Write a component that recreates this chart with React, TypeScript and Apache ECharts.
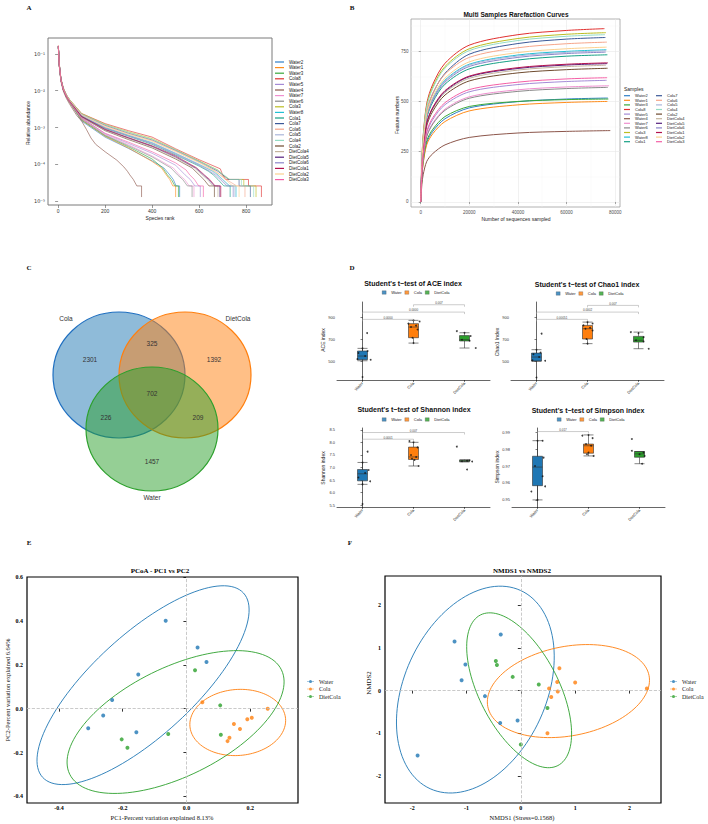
import { useEffect, useRef } from 'react';
import * as echarts from 'echarts';

const SANS = '"Liberation Sans", Arial, sans-serif';
const SERIF = '"Liberation Serif", "Times New Roman", serif';

// ---------- Panel A / B: samples ----------
const samples = ['Water2','Water1','Water3','Cola8','Water5','Water4','Water7','Water6','Cola3','Water8','Cola1','Cola7','Cola6','Cola5','Cola4','Cola2','DietCola4','DietCola5','DietCola6','DietCola1','DietCola2','DietCola3'];
const sampleColors = ['#2f7fc8','#ff8c1a','#39a83a','#e0302f','#a48ad6','#8c564b','#ef8fcf','#8a8a8a','#bcbd22','#21c1d4','#16a085','#3b5998','#f6a58a','#a9b6da','#93dcc4','#6e4a2e','#c4b49c','#55207e','#8b85c9','#b3124e','#fbd08f','#f45ea5'];

// Panel A: rank / relative abundance
const rankAbundance = [
  [[1,0.16],[5,0.048],[12,0.019],[22,0.0105],[35,0.0068],[50,0.0047],[100,0.0015],[200,0.00055],[300,0.00027],[400,0.000125],[450,0.00008],[475,0.000052],[490,0.000039],[502,0.000026],[517,0.000026],[517,0.000013]],
  [[1,0.15],[5,0.046],[12,0.019],[22,0.0105],[35,0.0068],[50,0.0047],[100,0.0016],[200,0.00058],[300,0.00028],[400,0.00012],[440,0.00008],[460,0.000052],[475,0.000039],[488,0.000026],[500,0.000026],[500,0.000013]],
  [[1,0.16],[5,0.05],[12,0.02],[22,0.011],[35,0.007],[50,0.0048],[100,0.0016],[200,0.0006],[300,0.0003],[400,0.00014],[445,0.00008],[465,0.000052],[482,0.000039],[497,0.000026],[512,0.000026],[512,0.000013]],
  [[1,0.17],[5,0.055],[12,0.021],[22,0.012],[35,0.0078],[50,0.0056],[100,0.0024],[200,0.00128],[300,0.00082],[400,0.00055],[500,0.000265],[600,0.000134],[690,0.000076],[700,0.000052],[712,0.000039],[810,0.000039],[810,0.000026],[865,0.000026],[865,0.000013]],
  [[1,0.16],[5,0.05],[12,0.02],[22,0.011],[35,0.007],[50,0.0049],[100,0.0018],[200,0.00068],[300,0.00037],[400,0.0002],[500,0.000095],[540,0.000052],[562,0.000039],[582,0.000026],[605,0.000026],[605,0.000013]],
  [[1,0.16],[5,0.047],[12,0.018],[22,0.0098],[35,0.0062],[50,0.0042],[80,0.0021],[100,0.0015],[120,0.0009],[140,0.00052],[160,0.00035],[200,0.00022],[250,0.00013],[280,0.000085],[295,0.000065],[305,0.000052],[320,0.000039],[335,0.000026],[355,0.000026],[355,0.000013]],
  [[1,0.16],[5,0.05],[12,0.02],[22,0.011],[35,0.007],[50,0.0049],[100,0.0017],[200,0.00065],[300,0.00034],[400,0.00017],[490,0.00008],[515,0.000052],[538,0.000039],[558,0.000026],[578,0.000026],[578,0.000013]],
  [[1,0.16],[5,0.05],[12,0.02],[22,0.011],[35,0.0069],[50,0.0048],[100,0.0017],[200,0.00062],[300,0.00032],[400,0.00016],[480,0.00008],[508,0.000052],[530,0.000039],[550,0.000026],[570,0.000026],[570,0.000013]],
  [[1,0.16],[5,0.052],[12,0.021],[22,0.012],[35,0.0078],[50,0.0056],[100,0.0024],[200,0.00122],[300,0.00076],[400,0.0005],[500,0.00025],[600,0.000125],[680,0.00007],[700,0.000052],[730,0.000039],[790,0.000039],[790,0.000026],[842,0.000026],[842,0.000013]],
  [[1,0.16],[5,0.05],[12,0.02],[22,0.0112],[35,0.0074],[50,0.0053],[100,0.0021],[200,0.001],[300,0.00062],[400,0.00039],[500,0.0002],[600,0.0001],[660,0.000065],[680,0.000052],[700,0.000039],[730,0.000026],[757,0.000026],[757,0.000013]],
  [[1,0.16],[5,0.05],[12,0.02],[22,0.0112],[35,0.0074],[50,0.0052],[100,0.002],[200,0.00095],[300,0.00058],[400,0.00035],[500,0.00018],[600,0.00009],[640,0.000065],[660,0.000052],[680,0.000039],[705,0.000026],[732,0.000026],[732,0.000013]],
  [[1,0.16],[5,0.05],[12,0.02],[22,0.0115],[35,0.0076],[50,0.0054],[100,0.0023],[200,0.00115],[300,0.0007],[400,0.00046],[500,0.00024],[600,0.00012],[680,0.000065],[700,0.000052],[725,0.000039],[770,0.000039],[770,0.000026],[818,0.000026],[818,0.000013]],
  [[1,0.16],[5,0.05],[12,0.02],[22,0.0115],[35,0.0076],[50,0.0054],[100,0.0023],[200,0.0011],[300,0.00068],[400,0.00044],[500,0.00023],[600,0.000115],[670,0.000065],[690,0.000052],[715,0.000039],[760,0.000026],[795,0.000026],[795,0.000013]],
  [[1,0.16],[5,0.05],[12,0.02],[22,0.0112],[35,0.0074],[50,0.0053],[100,0.0021],[200,0.001],[300,0.0006],[400,0.00038],[500,0.0002],[600,0.0001],[655,0.000065],[675,0.000052],[698,0.000039],[725,0.000026],[752,0.000026],[752,0.000013]],
  [[1,0.16],[5,0.052],[12,0.021],[22,0.012],[35,0.0077],[50,0.0055],[100,0.0023],[200,0.0012],[300,0.00074],[400,0.00048],[500,0.00025],[600,0.00012],[680,0.00007],[705,0.000052],[730,0.000039],[780,0.000039],[780,0.000026],[832,0.000026],[832,0.000013]],
  [[1,0.16],[5,0.05],[12,0.02],[22,0.011],[35,0.0071],[50,0.005],[100,0.0019],[200,0.00082],[300,0.00047],[400,0.00028],[500,0.00014],[570,0.00008],[600,0.000052],[620,0.000039],[642,0.000026],[665,0.000026],[665,0.000013]],
  [[1,0.16],[5,0.05],[12,0.02],[22,0.011],[35,0.0071],[50,0.005],[100,0.0019],[200,0.00085],[300,0.0005],[400,0.0003],[500,0.00015],[580,0.00008],[612,0.000052],[635,0.000039],[658,0.000026],[680,0.000026],[680,0.000013]],
  [[1,0.16],[5,0.05],[12,0.02],[22,0.011],[35,0.0072],[50,0.0051],[100,0.002],[200,0.00088],[300,0.00052],[400,0.00031],[500,0.00016],[585,0.00008],[618,0.000052],[640,0.000039],[665,0.000026],[688,0.000026],[688,0.000013]],
  [[1,0.16],[5,0.05],[12,0.02],[22,0.0112],[35,0.0073],[50,0.0052],[100,0.0021],[200,0.00098],[300,0.0006],[400,0.00037],[500,0.00019],[600,0.000095],[645,0.000065],[668,0.000052],[690,0.000039],[718,0.000026],[745,0.000026],[745,0.000013]],
  [[1,0.16],[5,0.05],[12,0.02],[22,0.011],[35,0.0072],[50,0.0051],[100,0.002],[200,0.0009],[300,0.00053],[400,0.00032],[500,0.00017],[590,0.00008],[622,0.000052],[645,0.000039],[668,0.000026],[692,0.000026],[692,0.000013]],
  [[1,0.16],[5,0.05],[12,0.02],[22,0.0113],[35,0.0075],[50,0.0054],[100,0.0022],[200,0.00105],[300,0.00065],[400,0.00042],[500,0.00022],[600,0.00011],[665,0.000065],[688,0.000052],[712,0.000039],[742,0.000026],[770,0.000026],[770,0.000013]],
  [[1,0.16],[5,0.05],[12,0.02],[22,0.011],[35,0.007],[50,0.0049],[100,0.0018],[200,0.0007],[300,0.0004],[400,0.00022],[500,0.00011],[545,0.00007],[560,0.000052],[580,0.000039],[598,0.000026],[618,0.000026],[618,0.000013]],
];
const rankTicks = [0, 200, 400, 600, 800];

// Panel B: rarefaction
const rareDepths = [0, 500, 1000, 2500, 5000, 10000, 20000, 40000, 60000];
const rareEndDepth = [77000,76800,77200,75600,76500,78000,77500,77000,76200,76400,76800,76000,76600,76300,75800,76900,76200,76700,76100,77000,76500,76700];
const rareValues = [
  [0,129,196,295,352,414,468,499,512,517],
  [0,125,190,285,340,400,453,483,495,500],
  [0,135,205,305,362,425,475,500,509,512],
  [0,216,328,491,586,690,780,832,853,862],
  [0,151,230,345,411,484,548,584,599,605],
  [0,89,135,202,241,284,321,343,351,355],
  [0,145,220,329,393,462,523,558,572,578],
  [0,143,217,325,388,456,516,550,564,570],
  [0,211,320,480,573,674,762,813,834,842],
  [0,189,288,431,515,606,685,731,749,757],
  [0,183,278,417,498,586,662,706,725,732],
  [0,195,300,450,540,640,735,788,810,818],
  [0,199,302,453,541,636,719,767,787,795],
  [0,188,286,429,511,602,681,726,744,752],
  [0,208,316,474,566,666,753,803,824,832],
  [0,166,253,379,452,532,602,642,658,665],
  [0,170,258,388,462,544,615,656,673,680],
  [0,172,261,392,468,550,623,664,681,688],
  [0,186,283,425,507,596,674,719,738,745],
  [0,173,263,394,471,554,626,668,685,692],
  [0,193,293,439,524,616,697,743,762,770],
  [0,155,235,352,420,494,559,596,612,618],
];
const rareXTicks = [0, 20000, 40000, 60000, 80000];
const rareYTicks = [0, 250, 500, 750];

// ---------- Groups ----------
const groups = ['Water', 'Cola', 'DietCola'];
const groupColors = ['#1f77b4', '#ff7f0e', '#2ca02c'];

// Panel C: Venn counts  (Cola only, Cola∩Diet, Diet only, all, Cola∩Water, Diet∩Water, Water only)
const vennSets = ['Cola', 'DietCola', 'Water'];
const vennCounts = [2301, 325, 1392, 702, 226, 209, 1457];

// Panel D: boxplot stats [min, Q1, median, Q3, max] for Water, Cola, DietCola
const aceBox = [[505,515,548,594,618],[666,715,812,843,873],[621,685,697,734,760]];
const chao1Box = [[500,503,539,575,606],[661,703,797,827,857],[615,675,691,727,766]];
const shannonBox = [[6.33,6.47,6.75,6.92,7.2],[7.06,7.32,7.42,7.81,8.0],[7.22,7.24,7.26,7.29,7.31]];
const simpsonBox = [[0.95,0.9584,0.9694,0.9758,0.985],[0.976,0.9776,0.982,0.983,0.9884],[0.9714,0.9752,0.9772,0.9786,0.9786]];
// jittered sample points [group position, value]
const acePoints = [[0.09,757],[0,357],[0.16,515],[-0.1,520],[0.05,548],[-0.08,575],[0.1,594],[0,618],[1,873],[1.12,862],[0.9,843],[1.05,825],[0.95,812],[1.08,790],[0.98,715],[1,666],[1.85,775],[2,760],[2.12,730],[1.95,697],[2.1,688],[2.22,621]];
const chao1Points = [[0.1,752],[0,352],[0.17,505],[-0.08,510],[0.05,539],[-0.06,565],[0.08,580],[0,606],[1,857],[1.1,845],[0.92,827],[1.05,805],[0.96,797],[1.1,780],[0.98,703],[1,661],[1.85,766],[2,755],[2.1,720],[1.95,691],[2.1,680],[2.2,615]];
const shannonPoints = [[0.1,7.63],[0,5.55],[0,7.2],[0.12,6.9],[0.05,6.78],[-0.08,6.6],[0.15,6.45],[0,6.33],[0.92,8.05],[1,8.0],[1.08,7.8],[0.95,7.5],[1.05,7.42],[0.97,7.35],[1.1,7.06],[1.02,7.3],[1.85,7.83],[1.95,7.25],[2.05,7.27],[2.15,7.24],[2.1,7.29],[2.05,6.92]];
const simpsonPoints = [[0.1,0.985],[0,0.985],[0.12,0.975],[-0.05,0.97],[0.1,0.964],[0.15,0.958],[-0.12,0.955],[0,0.95],[0.88,0.988],[1,0.9884],[1.08,0.9865],[0.95,0.983],[1.05,0.982],[1,0.978],[0.97,0.977],[1.1,0.976],[1.85,0.986],[1.85,0.979],[2.08,0.978],[2,0.977],[2.1,0.976],[2.05,0.9714]];
// significance brackets [from group, to group, height, p-value text]
const aceBrackets = [[1,2,1015,'0.007'],[0,2,948,'0.0000'],[0,1,882,'0.0000']];
const chao1Brackets = [[1,2,1009,'0.007'],[0,2,948,'0.0002'],[0,1,882,'0.00051']];
const shannonBrackets = [[0,2,8.39,'0.007'],[0,1,8.125,'0.0001']];
const simpsonBrackets = [[0,1,0.9904,'0.017']];
const aceTicks = [500, 700, 900];
const shannonTicks = [5.5, 6, 6.5, 7, 7.5, 8, 8.5];
const simpsonTicks = [0.95, 0.96, 0.97, 0.98, 0.99];

// Panel E: PCoA
const pcoaWater = [[-0.065,0.401],[0.035,0.279],[0.063,0.213],[-0.151,0.156],[-0.233,0.039],[-0.261,-0.031],[-0.308,-0.089],[-0.157,-0.108]];
const pcoaCola = [[0.05,0.029],[0.255,0.0],[0.205,-0.041],[0.191,-0.048],[0.149,-0.07],[0.168,-0.093],[0.135,-0.133],[0.129,-0.148]];
const pcoaDiet = [[0.027,0.175],[0.106,0.015],[0.108,-0.119],[-0.057,-0.116],[-0.203,-0.14],[-0.185,-0.178]];
// confidence ellipses: centre x, centre y, semi-axis 1 (x,y), semi-axis 2 (x,y)
const pcoaEllipses = [[-0.136,0.107,0.315,0.42,-0.107,0.17],[0.161,-0.063,0.15,0.0172,-0.0081,0.15],[-0.034,-0.061,0.332,0.238,-0.075,0.222]];
const pcoaXTicks = [-0.4, -0.2, 0, 0.2];
const pcoaYTicks = [-0.4, -0.2, 0, 0.2, 0.4, 0.6];

// Panel F: NMDS
const nmdsWater = [[-0.37,1.31],[-1.22,1.15],[-1.02,0.61],[-1.09,0.24],[-0.66,-0.13],[-0.38,-0.76],[-0.06,-0.7],[-1.9,-1.52]];
const nmdsCola = [[0.71,0.52],[0.67,0.2],[1.0,0.19],[2.32,0.05],[0.52,0.05],[0.68,-0.02],[0.56,-0.15],[0.49,-1.0]];
const nmdsDiet = [[-0.46,0.69],[-0.44,0.6],[-0.15,0.32],[0.33,0.14],[0.49,-0.41],[0.0,-1.26]];
const nmdsEllipses = [[-0.837,0.023,0.832,2.319,-1.19,0.689],[0.876,-0.012,1.484,0.363,-0.156,1.026],[-0.031,0.007,0.713,-1.761,0.651,0.425]];
const nmdsTicks = [-2, -1, 0, 1, 2];

// ---------- helpers ----------
const SUP: any = { '-': '⁻', '0': '⁰', '1': '¹', '2': '²', '3': '³', '4': '⁴', '5': '⁵', '6': '⁶', '7': '⁷', '8': '⁸', '9': '⁹' };
const sup = (n: number) => String(n).split('').map((c) => SUP[c]).join('');

const txt = (x: number, y: number, text: string, size: number, o: any = {}) => ({
  type: 'text', x, y, rotation: o.rot || 0, silent: true,
  style: { text, fontSize: size, fontFamily: o.font || SANS, fontWeight: o.bold ? 'bold' : 'normal', fill: o.color || '#222', align: o.align || 'center', verticalAlign: 'middle' },
});

function bracketSeries(xIdx: number, yIdx: number, list: any[]) {
  return {
    type: 'custom', xAxisIndex: xIdx, yAxisIndex: yIdx, silent: true, z: 6,
    encode: { x: [0, 1], y: 2 },
    data: list.map((b) => [b[0], b[1], b[2]]),
    renderItem: (params: any, api: any) => {
      const p1 = api.coord([api.value(0), api.value(2)]);
      const p2 = api.coord([api.value(1), api.value(2)]);
      const text = list[params.dataIndex][3];
      return {
        type: 'group',
        children: [
          { type: 'polyline', shape: { points: [[p1[0], p1[1] + 2], [p1[0], p1[1]], [p2[0], p2[1]], [p2[0], p2[1] + 2]] }, style: { stroke: '#9a9a9a', lineWidth: 0.5, fill: 'none' } },
          { type: 'text', x: (p1[0] + p2[0]) / 2, y: p1[1] - 0.5, style: { text, fontSize: 3, fontFamily: SANS, fill: '#444', align: 'center', verticalAlign: 'bottom' } },
        ],
      };
    },
  };
}

function ellipseSeries(xIdx: number, yIdx: number, list: number[][]) {
  return {
    type: 'custom', xAxisIndex: xIdx, yAxisIndex: yIdx, silent: true, z: 1,
    encode: { x: 0, y: 1 },
    data: list.map((e, i) => ({ value: e, itemStyle: { color: groupColors[i] } })),
    renderItem: (_p: any, api: any) => {
      const v = [0, 1, 2, 3, 4, 5].map((k) => api.value(k));
      const pts: number[][] = [];
      for (let i = 0; i <= 120; i++) {
        const t = (i / 120) * Math.PI * 2;
        pts.push(api.coord([v[0] + Math.cos(t) * v[2] + Math.sin(t) * v[4], v[1] + Math.cos(t) * v[3] + Math.sin(t) * v[5]]));
      }
      return { type: 'polyline', shape: { points: pts }, style: { stroke: api.visual('color'), lineWidth: 0.9, fill: 'none' } };
    },
  };
}

function buildOption() {
  const grid: any[] = [
    { left: 48, top: 38, width: 224, height: 167, show: true, borderColor: '#7a7a7a', borderWidth: 1 },
    { left: 411, top: 19, width: 209, height: 188, show: true, borderColor: '#a0a0a0', borderWidth: 0.8 },
    { left: 337, top: 302, width: 153, height: 78 },
    { left: 511, top: 302, width: 153, height: 78 },
    { left: 337, top: 428, width: 153, height: 79 },
    { left: 512, top: 428, width: 153, height: 79 },
    { left: 27, top: 577, width: 271, height: 226, show: true, borderColor: '#000', borderWidth: 1.2 },
    { left: 385, top: 576, width: 276, height: 227, show: true, borderColor: '#000', borderWidth: 1.2 },
  ].map((g) => ({ ...g, outerBoundsMode: 'none', containLabel: false }));

  const dPanels = [
    { box: aceBox, pts: acePoints, br: aceBrackets, min: 330, max: 1040, ticks: aceTicks, fmt: (v: number) => String(v), legendX: 382, legendY: 290.5 },
    { box: chao1Box, pts: chao1Points, br: chao1Brackets, min: 330, max: 1040, ticks: aceTicks, fmt: (v: number) => String(v), legendX: 556, legendY: 291.5 },
    { box: shannonBox, pts: shannonPoints, br: shannonBrackets, min: 5.43, max: 8.57, ticks: shannonTicks, fmt: (v: number) => v.toFixed(1), legendX: 382, legendY: 417.5 },
    { box: simpsonBox, pts: simpsonPoints, br: simpsonBrackets, min: 0.9458, max: 0.9925, ticks: simpsonTicks, fmt: (v: number) => v.toFixed(2), legendX: 557, legendY: 417.5 },
  ];

  const xAxis: any[] = [
    { type: 'value', gridIndex: 0, min: -43, max: 910, axisLine: { show: false }, splitLine: { show: false },
      axisTick: { length: 3, customValues: rankTicks, lineStyle: { color: '#555', width: 0.6 } },
      axisLabel: { customValues: rankTicks, formatter: (v: number) => String(v), fontSize: 5, margin: 3, color: '#333', fontFamily: SANS } },
    { type: 'value', gridIndex: 1, min: -4000, max: 82000, axisLine: { show: false },
      axisTick: { length: 2, customValues: rareXTicks, lineStyle: { color: '#555', width: 0.5 } },
      axisLabel: { customValues: rareXTicks, formatter: (v: number) => String(v), fontSize: 4.5, margin: 2.5, color: '#4d4d4d', fontFamily: SANS },
      splitLine: { show: true, lineStyle: { color: '#e8e8e8', width: 0.6 } } },
    { type: 'value', gridIndex: 1, min: -4000, max: 82000, axisLine: { show: false }, axisLabel: { show: false },
      axisTick: { show: false, customValues: [10000, 30000, 50000, 70000] },
      splitLine: { show: true, lineStyle: { color: '#f3f3f3', width: 0.4 } } },
  ];
  const yAxis: any[] = [
    { type: 'log', logBase: 10, gridIndex: 0, min: 7.9e-6, max: 0.27, axisLine: { show: false }, splitLine: { show: false }, minorTick: { show: false },
      axisTick: { length: 3, lineStyle: { color: '#555', width: 0.6 } },
      axisLabel: { formatter: (v: number) => '10' + sup(Math.round(Math.log10(v))), showMinLabel: false, showMaxLabel: false, fontSize: 5, margin: 3, color: '#333', fontFamily: '"DejaVu Sans", sans-serif' } },
    { type: 'value', gridIndex: 1, min: -25, max: 910, axisLine: { show: false },
      axisTick: { length: 2, customValues: rareYTicks, lineStyle: { color: '#555', width: 0.5 } },
      axisLabel: { customValues: rareYTicks, formatter: (v: number) => String(v), fontSize: 4.5, margin: 2.5, color: '#4d4d4d', fontFamily: SANS },
      splitLine: { show: true, lineStyle: { color: '#e8e8e8', width: 0.6 } } },
    { type: 'value', gridIndex: 1, min: -25, max: 910, axisLine: { show: false }, axisLabel: { show: false },
      axisTick: { show: false, customValues: [125, 375, 625, 875] },
      splitLine: { show: true, lineStyle: { color: '#f3f3f3', width: 0.4 } } },
  ];

  dPanels.forEach((p, k) => {
    xAxis.push({ type: 'category', gridIndex: 2 + k, data: groups, boundaryGap: true,
      axisLine: { show: true, lineStyle: { color: '#000', width: 0.6 } },
      axisTick: { show: true, alignWithLabel: true, length: 2, lineStyle: { color: '#000', width: 0.5 } },
      axisLabel: { rotate: 45, fontSize: 4, margin: 2.5, color: '#333', fontFamily: SANS }, splitLine: { show: false } });
    xAxis.push({ type: 'value', gridIndex: 2 + k, min: -0.5, max: 2.5, show: false });
    yAxis.push({ type: 'value', gridIndex: 2 + k, min: p.min, max: p.max,
      axisLine: { show: true, lineStyle: { color: '#000', width: 0.6 } },
      axisTick: { show: true, length: 2, customValues: p.ticks, lineStyle: { color: '#000', width: 0.5 } },
      axisLabel: { customValues: p.ticks, formatter: p.fmt, fontSize: 4, margin: 2, color: '#333', fontFamily: SANS },
      splitLine: { show: false } });
  });
  // E: xAxis 11, yAxis 7 ; F: xAxis 12, yAxis 8
  const serifTick = (ticks: number[], fmt: any, margin: number) => ({
    axisLine: { show: false }, splitLine: { show: false },
    axisTick: { show: true, length: 3, customValues: ticks, lineStyle: { color: '#000', width: 0.8 } },
    axisLabel: { customValues: ticks, formatter: fmt, fontSize: 6, fontWeight: 'bold', fontFamily: SERIF, color: '#000', margin },
  });
  xAxis.push({ type: 'value', gridIndex: 6, min: -0.5, max: 0.35, ...serifTick(pcoaXTicks, (v: number) => v.toFixed(1), 2) });
  xAxis.push({ type: 'value', gridIndex: 7, min: -2.5, max: 2.58, ...serifTick(nmdsTicks, (v: number) => String(v), 2) });
  yAxis.push({ type: 'value', gridIndex: 6, min: -0.43, max: 0.6, ...serifTick(pcoaYTicks, (v: number) => v.toFixed(1), 4) });
  yAxis.push({ type: 'value', gridIndex: 7, min: -2.63, max: 2.68, ...serifTick(nmdsTicks, (v: number) => String(v), 4) });

  const series: any[] = [];
  samples.forEach((name, i) => {
    series.push({ type: 'line', name, xAxisIndex: 0, yAxisIndex: 0, data: rankAbundance[i], symbol: 'none', showSymbol: false, silent: true,
      color: sampleColors[i], lineStyle: { width: 0.7, color: sampleColors[i], opacity: 0.9 }, emphasis: { disabled: true } });
  });
  samples.forEach((name, i) => {
    const data = rareDepths.map((d, j) => [d, rareValues[i][j]]);
    data.push([rareEndDepth[i], rareValues[i][9]]);
    series.push({ type: 'line', name, xAxisIndex: 1, yAxisIndex: 1, data, smooth: 0.3, symbol: 'none', showSymbol: false, silent: true,
      color: sampleColors[i], lineStyle: { width: 1, color: sampleColors[i] }, emphasis: { disabled: true } });
  });
  dPanels.forEach((p, k) => {
    series.push({ type: 'boxplot', name: 'box' + k, xAxisIndex: 3 + 2 * k, yAxisIndex: 3 + k, boxWidth: [10, 10], silent: true, z: 3,
      itemStyle: { borderWidth: 0.6, borderColor: '#333' },
      data: p.box.map((v, g) => ({ value: v, itemStyle: { color: groupColors[g], borderColor: '#333', borderWidth: 0.6 } })) });
    series.push({ type: 'scatter', name: 'pts' + k, xAxisIndex: 4 + 2 * k, yAxisIndex: 3 + k, data: p.pts, symbolSize: 1.8, silent: true, z: 5,
      itemStyle: { color: '#111' } });
    series.push(bracketSeries(4 + 2 * k, 3 + k, p.br));
  });
  const zeroLines = { silent: true, symbol: ['none', 'none'], label: { show: false }, lineStyle: { type: 'dashed', color: '#bdbdbd', width: 0.8 }, data: [{ xAxis: 0 }, { yAxis: 0 }] };
  [pcoaWater, pcoaCola, pcoaDiet].forEach((d, g) => {
    series.push({ type: 'scatter', name: groups[g], xAxisIndex: 11, yAxisIndex: 7, data: d, symbolSize: 4, silent: true, z: 4,
      itemStyle: { color: groupColors[g] }, markLine: g === 0 ? zeroLines : undefined });
  });
  series.push(ellipseSeries(11, 7, pcoaEllipses));
  [nmdsWater, nmdsCola, nmdsDiet].forEach((d, g) => {
    series.push({ type: 'scatter', name: groups[g], xAxisIndex: 12, yAxisIndex: 8, data: d, symbolSize: 4, silent: true, z: 4,
      itemStyle: { color: groupColors[g] }, markLine: g === 0 ? zeroLines : undefined });
  });
  series.push(ellipseSeries(12, 8, nmdsEllipses));

  const lineLegend = (data: string[], left: number, top: number, fs: number, lh: number, w: number) => ({
    data, orient: 'vertical', left, top, padding: 0, itemWidth: w, itemHeight: 1.2, itemGap: 0.6, icon: 'rect', selectedMode: false,
    textStyle: { fontSize: fs, lineHeight: lh, fontFamily: SANS, color: '#222', padding: 0 },
  });
  const dotIcon = 'path://M0,4.6h10v0.8h-10z M7.2,5a2.2,2.2 0 1,1 -4.4,0a2.2,2.2 0 1,1 4.4,0z';
  const legend: any[] = [
    lineLegend(samples, 275, 59.5, 4.5, 5, 9),
    lineLegend(samples.slice(0, 11), 624, 93.7, 4, 4, 6),
    lineLegend(samples.slice(11), 656, 93.7, 4, 4, 6),
    ...dPanels.map((p) => ({
      data: groups.map((g, i) => ({ name: g, itemStyle: { color: groupColors[i], borderColor: '#333', borderWidth: 0.3 } })),
      left: p.legendX, top: p.legendY, padding: 0, icon: 'rect', itemWidth: 4, itemHeight: 3.5, itemGap: 3, selectedMode: false,
      textStyle: { fontSize: 4, fontFamily: SANS, color: '#222', padding: 0 },
    })),
    ...[307, 670].map((left) => ({
      data: groups, orient: 'vertical', left, top: 678.5, padding: 0, icon: dotIcon, itemWidth: 7, itemHeight: 7, itemGap: 1.5, selectedMode: false,
      textStyle: { fontSize: 6, fontFamily: SERIF, color: '#222', padding: 0 },
    })),
  ];

  // Venn layout
  const vennCircles = [
    { cx: 119, cy: 375, rx: 66, ry: 63, fill: 'rgba(31,119,180,0.5)', stroke: '#1f6fc0' },
    { cx: 185, cy: 375, rx: 66, ry: 63, fill: 'rgba(255,127,14,0.5)', stroke: '#ff7f0e' },
    { cx: 152, cy: 429, rx: 66, ry: 62, fill: 'rgba(44,160,44,0.5)', stroke: '#2ca02c' },
  ];
  const vennSetPos = [[66, 318], [238, 318], [152, 497]];
  const vennCountPos = [[90, 359], [152, 343], [214, 359], [152, 393], [106, 417], [198, 417], [152, 461]];

  const graphic: any[] = [
    ...vennCircles.map((c) => ({ type: 'ellipse', silent: true, shape: { cx: c.cx, cy: c.cy, rx: c.rx, ry: c.ry }, style: { fill: c.fill, stroke: c.stroke, lineWidth: 1.2 } })),
    ...vennSets.map((s, i) => txt(vennSetPos[i][0], vennSetPos[i][1], s, 6.5, { color: '#333' })),
    ...vennCounts.map((n, i) => txt(vennCountPos[i][0], vennCountPos[i][1], String(n), 6.5, { color: '#333' })),
    // panel letters
    txt(29, 8, 'A', 7, { font: SERIF, bold: true, color: '#111' }),
    txt(352, 8, 'B', 7, { font: SERIF, bold: true, color: '#111' }),
    txt(29, 268, 'C', 7, { font: SERIF, bold: true, color: '#111' }),
    txt(352, 268, 'D', 7, { font: SERIF, bold: true, color: '#111' }),
    txt(29, 543, 'E', 7, { font: SERIF, bold: true, color: '#111' }),
    txt(350, 543, 'F', 7, { font: SERIF, bold: true, color: '#111' }),
    // A
    txt(28, 123, 'Relative abundance', 5, { rot: Math.PI / 2 }),
    txt(160, 218, 'Species rank', 5),
    // B
    txt(516, 14, 'Multi Samples Rarefaction Curves', 6.5, { bold: true, color: '#111' }),
    txt(397, 115, 'Feature numbers', 5, { rot: Math.PI / 2 }),
    txt(516, 219, 'Number of sequences sampled', 5),
    txt(624, 89, 'Samples', 5, { align: 'left' }),
    // D
    txt(413, 283, "Student's t\u2212test of ACE index", 7, { bold: true, color: '#111' }),
    txt(587, 284, "Student's t\u2212test of Chao1 index", 7, { bold: true, color: '#111' }),
    txt(414, 409, "Student's t\u2212test of Shannon index", 7, { bold: true, color: '#111' }),
    txt(588, 410, "Student's t\u2212test of Simpson index", 7, { bold: true, color: '#111' }),
    txt(323, 340, 'ACE index', 5, { rot: Math.PI / 2 }),
    txt(497, 342, 'Chao1 Index', 5, { rot: Math.PI / 2 }),
    txt(323, 468, 'Shannon index', 5, { rot: Math.PI / 2 }),
    txt(497, 467, 'Simpson index', 5, { rot: Math.PI / 2 }),
    // E
    txt(160, 571, 'PCoA - PC1 vs PC2', 7, { font: SERIF, bold: true, color: '#000' }),
    txt(162, 817.5, 'PC1-Percent variation explained 8.13%', 6.5, { font: SERIF, color: '#111' }),
    txt(7, 690, 'PC2-Percent variation explained 6.64%', 6.5, { font: SERIF, color: '#111', rot: Math.PI / 2 }),
    // F
    txt(522, 571, 'NMDS1 vs NMDS2', 7, { font: SERIF, bold: true, color: '#000' }),
    txt(522, 817.5, 'NMDS1 (Stress=0.1568)', 6.5, { font: SERIF, color: '#111' }),
    txt(369, 683, 'NMDS2', 7, { font: SERIF, color: '#111', rot: Math.PI / 2 }),
  ];

  return { animation: false, backgroundColor: '#fff', grid, xAxis, yAxis, series, legend, graphic, tooltip: { show: false } };
}

export default function App() {
  const ref = useRef<HTMLDivElement>(null);
  useEffect(() => {
    const chart = echarts.init(ref.current as HTMLDivElement, null, { renderer: 'svg', width: 708, height: 824 });
    chart.setOption(buildOption() as any);
    return () => chart.dispose();
  }, []);
  return <div ref={ref} style={{ position: 'absolute', left: 0, top: 0, width: 708, height: 824, background: '#fff' }} />;
}
